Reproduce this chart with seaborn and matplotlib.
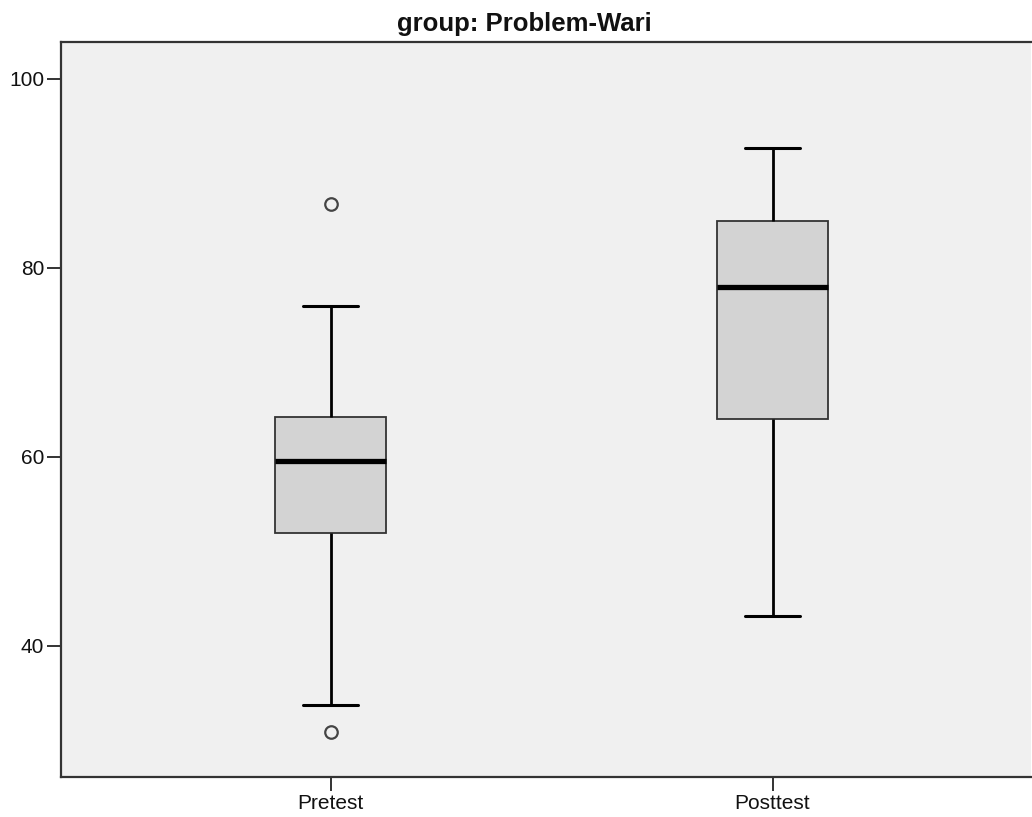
import matplotlib
matplotlib.use("Agg")
import matplotlib.pyplot as plt
import pandas as pd
import seaborn as sns

sns.set_theme(style="white")
plt.rcParams["font.family"] = ["Liberation Sans", "DejaVu Sans"]

# scores (quartiles, whisker ends, outliers)
phases = ["Pretest", "Posttest"]
pretest = [30.9, 33.7, 45.0, 51.9, 55.0, 58.0, 59.5, 61.0, 63.0, 64.2, 70.0, 76.0, 86.8]
posttest = [43.1, 55.0, 60.0, 64.0, 70.0, 75.0, 78.0, 80.0, 83.0, 85.0, 88.0, 90.0, 92.7]
y_ticks = [40, 60, 80, 100]

df = pd.DataFrame({
    "phase": ["Pretest"] * len(pretest) + ["Posttest"] * len(posttest),
    "score": pretest + posttest,
})

fig = plt.figure(figsize=(10.32, 8.17), dpi=100)
ax = fig.add_axes([0.0591, 0.049, 0.94, 0.8996])
ax.set_facecolor("#f0f0f0")

sns.boxplot(
    data=df, x="phase", y="score", order=phases, ax=ax,
    width=0.25, color="#d3d3d3", linecolor="black", saturation=1,
    boxprops={"edgecolor": "#333333", "linewidth": 1.3},
    whiskerprops={"color": "black", "linewidth": 2.0},
    capprops={"color": "black", "linewidth": 2.2},
    medianprops={"color": "black", "linewidth": 3.8},
    flierprops={"marker": "o", "markersize": 9, "markerfacecolor": "none",
                "markeredgecolor": "#444444", "markeredgewidth": 1.6},
)

ax.set_xlim(-0.61, 1.585)
ax.set_ylim(26.1, 103.9)
ax.set_yticks(y_ticks)
ax.set_xlabel("")
ax.set_ylabel("")
ax.set_title("group: Problem-Wari", fontsize=18.5, fontweight="bold", pad=8,
             color="#111111", x=0.478)

for side in ["left", "top", "bottom"]:
    ax.spines[side].set_color("#333333")
    ax.spines[side].set_linewidth(1.6)
ax.spines["right"].set_visible(False)

ax.tick_params(axis="both", direction="out", length=10, width=1.4,
               color="#333333", labelsize=15, labelcolor="#111111",
               left=True, bottom=True, pad=2)
ax.grid(False)

fig.savefig("out.png", dpi=100)
